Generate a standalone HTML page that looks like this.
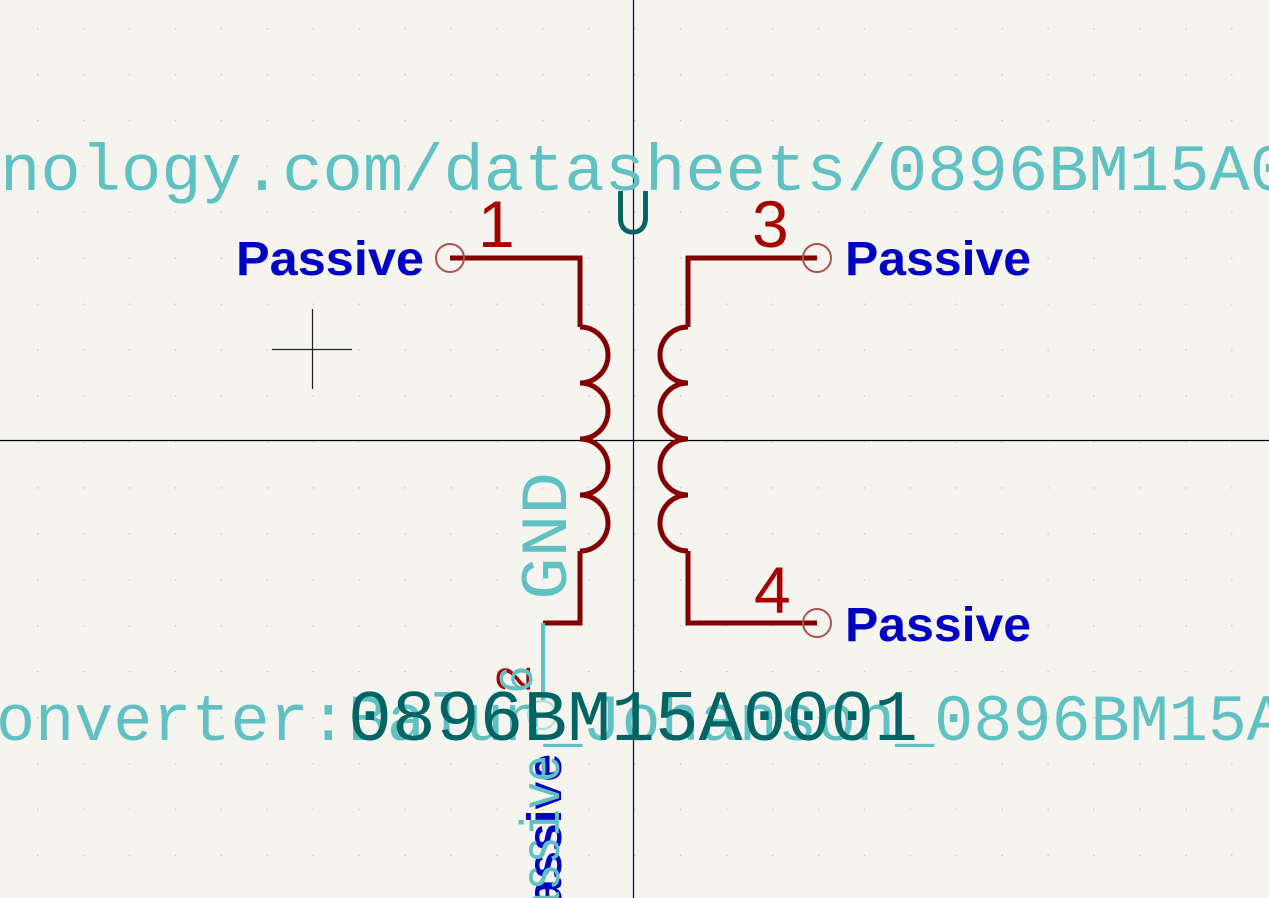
<!DOCTYPE html>
<html><head><meta charset="utf-8"><style>
html,body{margin:0;padding:0;background:#f5f4ef;width:1269px;height:898px;overflow:hidden;}
svg{display:block}
</style></head><body>
<svg width="1269" height="898" viewBox="0 0 1269 898" xmlns="http://www.w3.org/2000/svg" style="overflow:hidden">
<defs>
<pattern id="g" x="37" y="28" width="45.93" height="45.93" patternUnits="userSpaceOnUse">
<rect x="0" y="0" width="1.3" height="1.3" fill="#c4c4c4"/>
</pattern>
</defs>
<rect width="1269" height="898" fill="#f5f4ef"/>
<rect width="1269" height="898" fill="url(#g)"/>
<line x1="633.5" y1="0" x2="633.5" y2="898" stroke="#000080" stroke-width="1.2"/>
<line x1="0" y1="440.5" x2="1269" y2="440.5" stroke="#000" stroke-width="1.2"/>
<line x1="272" y1="349.5" x2="352" y2="349.5" stroke="#222" stroke-width="1.2"/>
<line x1="312.5" y1="309" x2="312.5" y2="389" stroke="#222" stroke-width="1.2"/>

<text x="0" y="190" font-family="Liberation Mono, DejaVu Sans Mono, monospace" font-size="66" fill="#5fc1c1" textLength="1290" lengthAdjust="spacingAndGlyphs">nology.com/datasheets/0896BM15A0</text>
<text x="-4" y="740" font-family="Liberation Mono, DejaVu Sans Mono, monospace" font-size="66" fill="#5fc1c1" textLength="1290" lengthAdjust="spacingAndGlyphs">onverter:Balun_Johanson_0896BM15A</text>

<g fill="none" stroke="#840000" stroke-width="5" stroke-linejoin="miter">
<polyline points="450,258 580,258 580,327"/>
<path d="M580,327 a28,28 0 0 1 0,56 a28,28 0 0 1 0,56 a28,28 0 0 1 0,56 a28,28 0 0 1 0,56"/>
<polyline points="580,551 580,623 543,623"/>
<polyline points="817,258 688,258 688,327"/>
<path d="M688,327 a28,28 0 0 0 0,56 a28,28 0 0 0 0,56 a28,28 0 0 0 0,56 a28,28 0 0 0 0,56"/>
<polyline points="688,551 688,623 817,623"/>
</g>
<g fill="none" stroke="#b05050" stroke-width="2">
<circle cx="450" cy="258" r="14"/>
<circle cx="817" cy="258" r="14"/>
<circle cx="817" cy="623" r="14"/>
</g>
<line x1="543" y1="623" x2="543" y2="700" stroke="#5fc1c1" stroke-width="4"/>
<circle cx="542" cy="715" r="14" fill="none" stroke="#a8dede" stroke-width="2"/>

<g font-family="Liberation Sans, DejaVu Sans, sans-serif" font-size="66" fill="#a80000">
<text x="478" y="247">1</text>
<text x="752" y="247">3</text>
<text x="754" y="613">4</text>
<text transform="translate(530,692) rotate(-90)" font-size="48">2</text>
</g>
<text transform="translate(532,694) rotate(-90)" font-family="Liberation Mono, monospace" font-size="48" fill="#5fc1c1">6</text>

<text x="614" y="234" font-family="Liberation Sans, DejaVu Sans, sans-serif" font-size="62" fill="#006464" textLength="38" lengthAdjust="spacingAndGlyphs">U</text>
<text x="348" y="740" font-family="Liberation Mono, DejaVu Sans Mono, monospace" font-size="72" fill="#006464" textLength="570" lengthAdjust="spacingAndGlyphs">0896BM15A0001</text>

<text transform="translate(566,600) rotate(-90)" font-family="Liberation Mono, DejaVu Sans Mono, monospace" font-size="66" fill="#5fc1c1" textLength="128" lengthAdjust="spacingAndGlyphs">GND</text>

<g font-family="Liberation Sans, DejaVu Sans, sans-serif" font-weight="bold" font-size="48" fill="#0000c4">
<text x="236" y="275" textLength="188" lengthAdjust="spacingAndGlyphs">Passive</text>
<text x="845" y="275" textLength="186" lengthAdjust="spacingAndGlyphs">Passive</text>
<text x="845" y="641" textLength="186" lengthAdjust="spacingAndGlyphs">Passive</text>
<text transform="translate(561,940) rotate(-90)" textLength="186" lengthAdjust="spacingAndGlyphs">Passive</text>
</g>
<text transform="translate(559,945) rotate(-90)" font-family="Liberation Mono, monospace" font-size="56" fill="#5fc1c1" textLength="190" lengthAdjust="spacingAndGlyphs">Passive</text>
</svg>
</body></html>
